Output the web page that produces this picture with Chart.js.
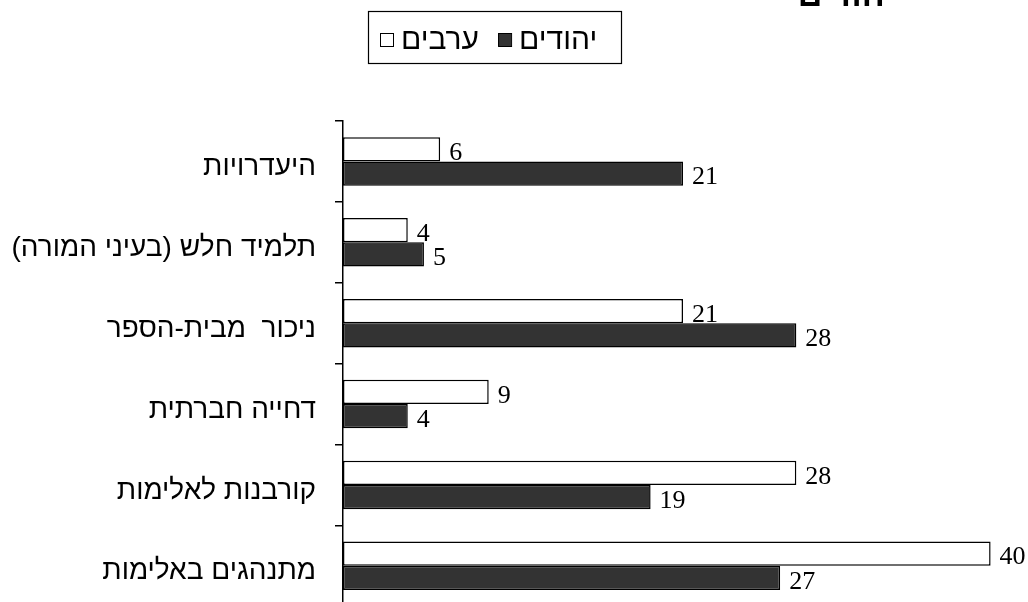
<!DOCTYPE html>
<html>
<head>
<meta charset="utf-8">
<script src="https://cdn.jsdelivr.net/npm/chart.js@4"></script>
<style>
  html, body { margin: 0; padding: 0; background: #fff; overflow: hidden; }
  #wrap { width: 1028px; height: 602px; overflow: hidden; }
  #chart { display: block; width: 1028px; height: 642px; }
</style>
</head>
<body>
<div id="wrap"><canvas id="chart" dir="rtl" width="1028" height="642"></canvas></div>
<script>
// Data
const categories = ["היעדרויות", "תלמיד חלש (בעיני המורה)", "ניכור  מבית-הספר", "דחייה חברתית", "קורבנות לאלימות", "מתנהגים באלימות"];
const arabs = [6, 4, 21, 9, 28, 40];
const jews = [21, 5, 28, 4, 19, 27];
const seriesNames = ["ערבים", "יהודים"];
const titleText = "יהודים";   // only the bottom of it shows at the top edge

const LABEL_FONT = "'Liberation Sans', 'DejaVu Sans', sans-serif";

// numbers printed just past the end of each bar
const valueLabels = {
  id: "valueLabels",
  afterDatasetsDraw(chart) {
    const ctx = chart.ctx;
    ctx.save();
    ctx.font = "26px 'Liberation Serif', serif";
    ctx.fillStyle = "#000";
    ctx.textAlign = "left";
    ctx.textBaseline = "middle";
    chart.data.datasets.forEach((ds, i) => {
      chart.getDatasetMeta(i).data.forEach((bar, j) => {
        ctx.fillText(String(ds.data[j]), bar.x + 9, bar.y + 4);
      });
    });
    ctx.restore();
  }
};

// framed legend like the Excel one: □ ערבים ■ יהודים
const boxLegend = {
  id: "boxLegend",
  afterDraw(chart) {
    const ctx = chart.ctx;
    ctx.save();
    ctx.strokeStyle = "#000";
    ctx.lineWidth = 1.2;
    ctx.strokeRect(368.5, 11.5, 253, 52);
    ctx.font = "30px " + LABEL_FONT;
    ctx.textAlign = "left";
    ctx.textBaseline = "middle";
    let x = 380;
    chart.data.datasets.forEach((ds) => {
      ctx.fillStyle = ds.backgroundColor;
      ctx.fillRect(x, 33, 13, 13);
      ctx.lineWidth = 1;
      ctx.strokeRect(x + 0.5, 33.5, 13, 13);
      x += 21;
      ctx.fillStyle = "#000";
      ctx.fillText(ds.label, x, 41);
      x += ctx.measureText(ds.label).width + 19;
    });
    ctx.restore();
  }
};

const cutTitle = {
  id: "cutTitle",
  afterDraw(chart) {
    const ctx = chart.ctx;
    ctx.save();
    ctx.font = "bold 34px " + LABEL_FONT;
    ctx.fillStyle = "#000";
    ctx.textAlign = "center";
    ctx.textBaseline = "alphabetic";
    ctx.fillText(titleText, 846, 6);
    ctx.restore();
  }
};

new Chart(document.getElementById("chart").getContext("2d"), {
  type: "bar",
  data: {
    labels: categories,
    datasets: [
      { label: seriesNames[0], data: arabs, backgroundColor: "#ffffff",
        borderColor: "#000", borderWidth: 1.5, borderSkipped: false },
      { label: seriesNames[1], data: jews, backgroundColor: "#333333",
        borderColor: "#000", borderWidth: 1.5, borderSkipped: false },
    ],
  },
  options: {
    indexAxis: "y",
    responsive: false,
    animation: false,
    // bottom row runs past the window edge, as in the reference
    layout: { padding: { top: 121, right: 5, bottom: 0, left: 0 } },
    datasets: { bar: { categoryPercentage: 0.6, barPercentage: 1 } },
    plugins: { legend: { display: false }, tooltip: { enabled: false } },
    scales: {
      x: { display: false, min: 0, max: 42 },
      y: {
        afterFit(scale) { scale.width = 343; },
        grid: { drawOnChartArea: false, drawTicks: true, tickLength: 8,
                color: "#000", lineWidth: 1.5, offset: true },
        border: { color: "#000", width: 1.5 },
        ticks: { color: "#000", padding: 19, labelOffset: 6,
                 font: { family: LABEL_FONT, size: 28 } },
      },
    },
  },
  plugins: [valueLabels, boxLegend, cutTitle],
});
</script>
</body>
</html>
